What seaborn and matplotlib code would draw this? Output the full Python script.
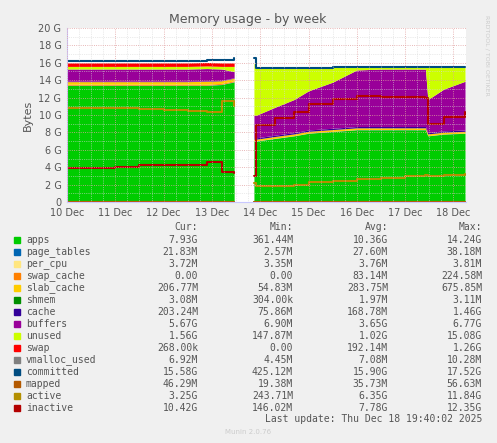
import numpy as np
import matplotlib
matplotlib.use("Agg")
import matplotlib.pyplot as plt
import seaborn as sns

# time in days since 10 Dec 00:00
t1 = [0, 0.5, 1, 1.5, 2, 2.5, 2.9, 3.2, 3.46]
t2 = [3.87, 3.92, 4.3, 4.7, 5.0, 5.5, 6.0, 6.5, 7.0, 7.42, 7.47, 7.8, 8.24]

# stacked areas (G), segment 1 / segment 2
apps1 = [13.4, 13.4, 13.4, 13.4, 13.4, 13.4, 13.4, 13.5, 13.8]
apps2 = [7.0, 7.0, 7.3, 7.6, 7.9, 8.1, 8.3, 8.3, 8.3, 8.3, 7.6, 7.8, 7.9]
page_tables1 = [0.03] * 9
page_tables2 = [0.02] * 13
per_cpu1 = [0.004] * 9
per_cpu2 = [0.004] * 13
swap_cache1 = [0.1] * 9
swap_cache2 = [0.0] * 13
slab_cache1 = [0.3, 0.3, 0.3, 0.3, 0.3, 0.3, 0.35, 0.3, 0.3]
slab_cache2 = [0.2, 0.2, 0.2, 0.2, 0.2, 0.2, 0.2, 0.2, 0.2, 0.2, 0.2, 0.2, 0.2]
shmem1 = [0.003] * 9
shmem2 = [0.003] * 13
cache1 = [0.05] * 9
cache2 = [0.15] * 13
buffers1 = [1.4, 1.4, 1.4, 1.4, 1.4, 1.4, 1.4, 1.3, 0.7]
buffers2 = [2.6, 2.6, 3.2, 3.8, 4.5, 5.3, 6.5, 6.6, 6.6, 6.6, 3.8, 4.8, 5.6]
unused1 = [0.3, 0.3, 0.3, 0.3, 0.3, 0.3, 0.3, 0.3, 0.6]
unused2 = [6.0, 5.5, 4.6, 3.7, 2.7, 1.7, 0.3, 0.2, 0.2, 0.2, 3.7, 2.5, 1.6]
swap1 = [0.4, 0.4, 0.4, 0.4, 0.4, 0.4, 0.4, 0.4, 0.4]
swap2 = [0.0] * 13

# lines
vmalloc1 = [0.007] * 9
vmalloc2 = [0.007] * 13
committed1 = [16.2, 16.2, 16.2, 16.2, 16.2, 16.2, 16.3, 16.3, 16.5]
committed2 = [16.5, 15.4, 15.4, 15.4, 15.4, 15.5, 15.5, 15.5, 15.5, 15.5, 15.5, 15.5, 15.5]
mapped1 = [0.04] * 9
mapped2 = [0.04] * 13
active1 = [10.8, 10.8, 10.8, 10.7, 10.6, 10.5, 10.4, 11.6, 11.0]
active2 = [2.2, 1.8, 1.8, 1.9, 2.3, 2.4, 2.6, 2.8, 3.0, 3.1, 3.0, 3.1, 3.2]
inactive1 = [3.9, 3.9, 4.0, 4.2, 4.3, 4.3, 4.6, 3.5, 3.3]
inactive2 = [3.0, 8.9, 9.6, 10.4, 11.3, 11.8, 12.2, 12.1, 12.1, 12.0, 9.0, 9.8, 10.4]

area_names = ["apps", "page_tables", "per_cpu", "swap_cache", "slab_cache", "shmem",
              "cache", "buffers", "unused", "swap"]
area_colors = ["#00CC00", "#0066B3", "#FFE680", "#FF8000", "#FFCC00", "#008F00",
               "#330099", "#990099", "#CCFF00", "#FF0000"]
line_names = ["vmalloc_used", "committed", "mapped", "active", "inactive"]
line_colors = ["#808080", "#004C80", "#B35900", "#B38F00", "#B30000"]

seg1_areas = [apps1, page_tables1, per_cpu1, swap_cache1, slab_cache1, shmem1, cache1, buffers1, unused1, swap1]
seg2_areas = [apps2, page_tables2, per_cpu2, swap_cache2, slab_cache2, shmem2, cache2, buffers2, unused2, swap2]
seg1_lines = [vmalloc1, committed1, mapped1, active1, inactive1]
seg2_lines = [vmalloc2, committed2, mapped2, active2, inactive2]

cur = ["7.93G", "21.83M", "3.72M", "0.00", "206.77M", "3.08M", "203.24M", "5.67G", "1.56G",
       "268.00k", "6.92M", "15.58G", "46.29M", "3.25G", "10.42G"]
mins = ["361.44M", "2.57M", "3.35M", "0.00", "54.83M", "304.00k", "75.86M", "6.90M", "147.87M",
        "0.00", "4.45M", "425.12M", "19.38M", "243.71M", "146.02M"]
avgs = ["10.36G", "27.60M", "3.76M", "83.14M", "283.75M", "1.97M", "168.78M", "3.65G", "1.02G",
        "192.14M", "7.08M", "15.90G", "35.73M", "6.35G", "7.78G"]
maxs = ["14.24G", "38.18M", "3.81M", "224.58M", "675.85M", "3.11M", "1.46G", "6.77G", "15.08G",
        "1.26G", "10.28M", "17.52G", "56.63M", "11.84G", "12.35G"]
day_labels = ["10 Dec", "11 Dec", "12 Dec", "13 Dec", "14 Dec", "15 Dec", "16 Dec", "17 Dec", "18 Dec"]

sns.set_style("white")
plt.rcParams["font.family"] = ["DejaVu Sans"]

fig = plt.figure(figsize=(4.97, 4.43), dpi=100, facecolor="#F0F0F0")
W, H = 497, 443
ax = fig.add_axes([67 / W, 1 - 202 / H, 399 / W, 174 / H])
ax.set_facecolor("white")

for t, areas, lines in [(t1, seg1_areas, seg1_lines), (t2, seg2_areas, seg2_lines)]:
    ax.stackplot(t, np.array(areas), colors=area_colors, linewidth=0)
    for vals, c in zip(lines, line_colors):
        sns.lineplot(x=t, y=vals, color=c, linewidth=1.5, ax=ax, drawstyle="steps-post")

ax.set_xlim(0, 8.26)
ax.set_ylim(0, 20)
ax.set_xticks(range(9))
ax.set_xticklabels(day_labels, fontsize=7, color="#555555")
ax.set_yticks(range(0, 21, 2))
ax.set_yticklabels(["0"] + [f"{v} G" for v in range(2, 21, 2)], fontsize=7, color="#555555")
ax.set_yticks(range(0, 21), minor=True)
ax.set_xticks(np.arange(0, 8.26, 0.25), minor=True)
ax.grid(True, which="major", axis="x", color="#E0A0A0", linestyle=":", linewidth=0.6)
ax.grid(True, which="minor", color="#D8D8D8", linestyle=":", linewidth=0.5)
ax.grid(True, which="major", axis="y", color="#E0A0A0", linestyle=":", linewidth=0.6)
ax.set_axisbelow(False)
ax.tick_params(length=2, pad=2)
for s in ["top", "right"]:
    ax.spines[s].set_visible(False)
for s in ["left", "bottom"]:
    ax.spines[s].set_color("#C8C8FF")
ax.set_ylabel("Bytes", fontsize=8, color="#555555")

fig.text(248 / W, 1 - 19 / H, "Memory usage - by week", ha="center", va="center", fontsize=9, color="#555555")
fig.text(487 / W, 1 - 55 / H, "RRDTOOL / TOBI OETIKER", rotation=270, ha="center", va="center",
         fontsize=4.5, color="#CCCCCC")

mono = "DejaVu Sans Mono"
fs = 7
col_x = [198, 293, 388, 482]
for hx, h in zip(col_x, ["Cur:", "Min:", "Avg:", "Max:"]):
    fig.text(hx / W, 1 - 227 / H, h, ha="right", va="center", fontsize=fs, color="#555555", family=mono)
names = area_names + line_names
colors = area_colors + line_colors
for i, (n, c) in enumerate(zip(names, colors)):
    y = 1 - (240 + i * 12) / H
    fig.patches.append(plt.Rectangle((14 / W, y - 3 / H), 6 / W, 6 / H, transform=fig.transFigure,
                                     color=c, figure=fig))
    fig.text(26 / W, y, n, ha="left", va="center", fontsize=fs, color="#555555", family=mono)
    for cx, v in zip(col_x, [cur[i], mins[i], avgs[i], maxs[i]]):
        fig.text(cx / W, y, v, ha="right", va="center", fontsize=fs, color="#555555", family=mono)

fig.text(482 / W, 1 - 419 / H, "Last update: Thu Dec 18 19:40:02 2025", ha="right", va="center",
         fontsize=fs, color="#555555", family=mono)
fig.text(248 / W, 1 - 432 / H, "Munin 2.0.76", ha="center", va="center", fontsize=5, color="#CCCCCC")

fig.savefig("out.png", dpi=100, facecolor=fig.get_facecolor())
